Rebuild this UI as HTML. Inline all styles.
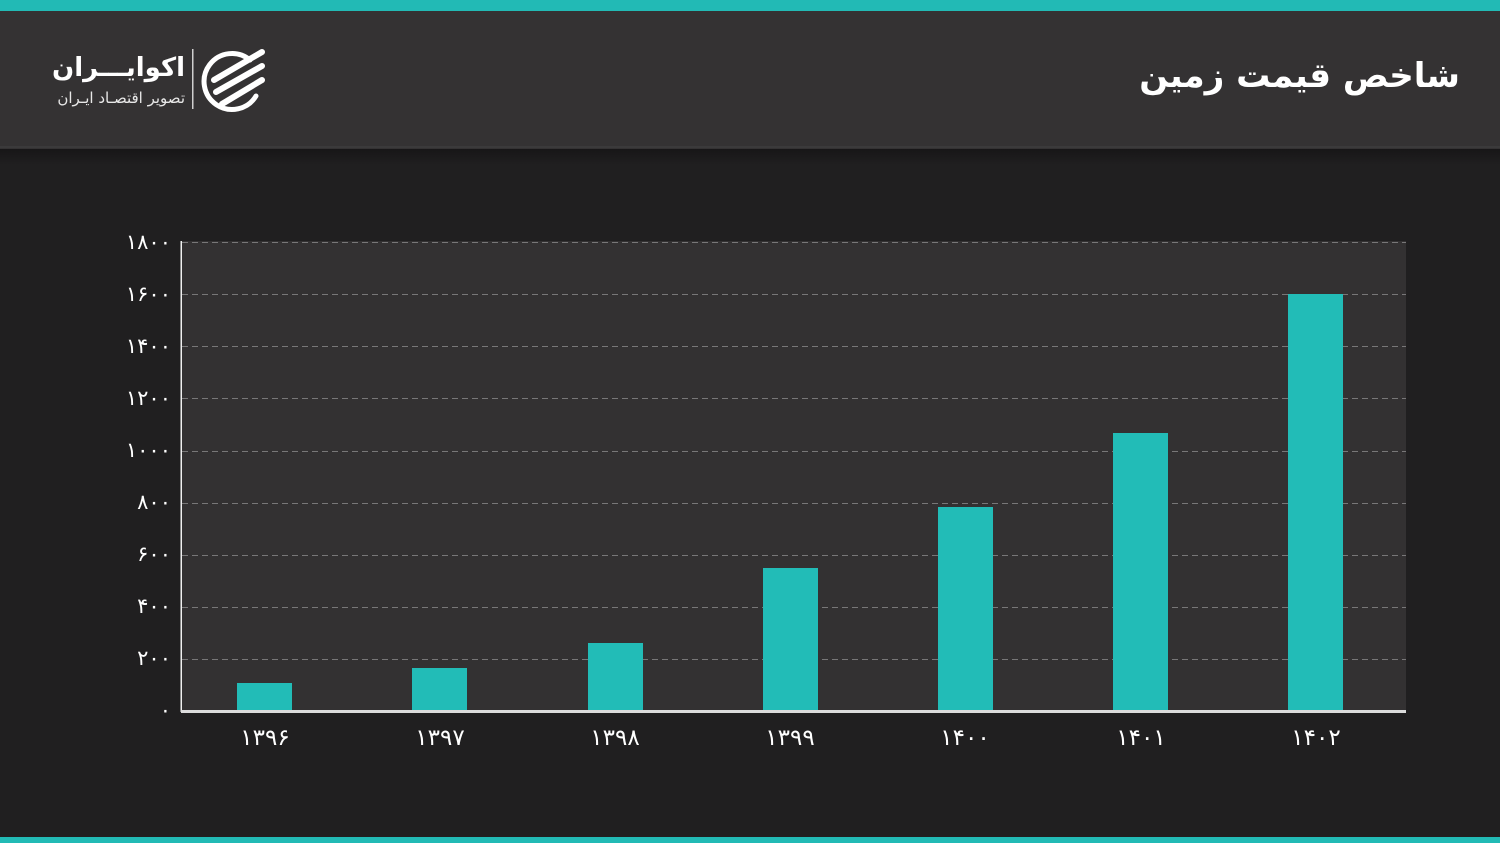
<!DOCTYPE html>
<html><head><meta charset="utf-8">
<style>
html,body{margin:0;padding:0;}
body{width:1500px;height:843px;position:relative;overflow:hidden;background:#201f20;font-family:"DejaVu Sans","Liberation Sans",sans-serif;}
.abs{position:absolute;white-space:nowrap;}
.title{right:40px;top:48px;font-size:34px;font-weight:bold;color:#fff;direction:rtl;line-height:56px;}
.logo1{right:1315px;top:48px;font-size:26px;font-weight:bold;color:#fff;direction:rtl;line-height:40px;}
.logo2{right:1315px;top:88px;font-size:15px;color:#e8e8e8;direction:rtl;line-height:20px;}
</style></head>
<body>
<svg width="1500" height="843" style="position:absolute;left:0;top:0" xmlns="http://www.w3.org/2000/svg">
  <defs>
    <linearGradient id="sh" x1="0" y1="0" x2="0" y2="1">
      <stop offset="0" stop-color="#171617"/>
      <stop offset="1" stop-color="#201f20"/>
    </linearGradient>
  </defs>
  <!-- header -->
  <rect x="0" y="0" width="1500" height="149" fill="#343233"/>
  <rect x="0" y="0" width="1500" height="11" fill="#22bab5"/>
  <rect x="0" y="146" width="1500" height="2" fill="#3b3a3b"/>
  <rect x="0" y="149" width="1500" height="16" fill="url(#sh)"/>
  <!-- bottom bar -->
  <rect x="0" y="837" width="1500" height="6" fill="#22bab5"/>

  <!-- logo separator and icon -->
  <rect x="192" y="49" width="1.5" height="60" fill="#cfcfcf"/>
  <g fill="none" stroke="#ffffff" stroke-linecap="round">
    <path d="M250 60 A28 28 0 1 0 256 96" stroke-width="5"/>
    <path d="M214 80 L262 52" stroke-width="6"/>
    <path d="M216 92 L262 66" stroke-width="6"/>
    <path d="M222 104 L262 80" stroke-width="6"/>
  </g>

  <!-- plot area -->
  <rect x="181" y="241" width="1225" height="470" fill="#333132"/>
  <g stroke="#787778" stroke-width="1" stroke-dasharray="6 4">
    <line x1="182" y1="242.5" x2="1406" y2="242.5"/>
    <line x1="182" y1="294.5" x2="1406" y2="294.5"/>
    <line x1="182" y1="346.5" x2="1406" y2="346.5"/>
    <line x1="182" y1="398.5" x2="1406" y2="398.5"/>
    <line x1="182" y1="451.5" x2="1406" y2="451.5"/>
    <line x1="182" y1="503.5" x2="1406" y2="503.5"/>
    <line x1="182" y1="555.5" x2="1406" y2="555.5"/>
    <line x1="182" y1="607.5" x2="1406" y2="607.5"/>
    <line x1="182" y1="659.5" x2="1406" y2="659.5"/>
  </g>
  <!-- bars -->
  <g fill="#22bcb7">
    <rect x="237" y="683" width="55" height="28"/>
    <rect x="412" y="668" width="55" height="43"/>
    <rect x="588" y="643" width="55" height="68"/>
    <rect x="763" y="568" width="55" height="143"/>
    <rect x="938" y="507" width="55" height="204"/>
    <rect x="1113" y="433" width="55" height="278"/>
    <rect x="1288" y="294" width="55" height="417"/>
  </g>
  <!-- axes -->
  <rect x="180.5" y="241" width="1.5" height="471" fill="#f0f0f0"/>
  <rect x="181" y="710" width="1225" height="3" fill="#dcdcdc"/>

  <!-- y labels -->
  <g fill="#ffffff" font-family="DejaVu Sans, Liberation Sans, sans-serif" font-size="21" text-anchor="end">
    <text x="171" y="249">۱۸۰۰</text>
    <text x="171" y="301">۱۶۰۰</text>
    <text x="171" y="353">۱۴۰۰</text>
    <text x="171" y="405">۱۲۰۰</text>
    <text x="171" y="457">۱۰۰۰</text>
    <text x="171" y="509">۸۰۰</text>
    <text x="171" y="561">۶۰۰</text>
    <text x="171" y="613">۴۰۰</text>
    <text x="171" y="665">۲۰۰</text>
    <text x="171" y="717">۰</text>
  </g>
  <!-- x labels -->
  <g fill="#ffffff" font-family="DejaVu Sans, Liberation Sans, sans-serif" font-size="23" text-anchor="middle">
    <text x="265" y="745">۱۳۹۶</text>
    <text x="440" y="745">۱۳۹۷</text>
    <text x="615" y="745">۱۳۹۸</text>
    <text x="790" y="745">۱۳۹۹</text>
    <text x="965" y="745">۱۴۰۰</text>
    <text x="1141" y="745">۱۴۰۱</text>
    <text x="1316" y="745">۱۴۰۲</text>
  </g>
</svg>

<div class="abs title">شاخص قیمت زمین</div>
<div class="abs logo1">اکوایـــران</div>
<div class="abs logo2">تصویر اقتصـاد ایـران</div>
</body></html>
